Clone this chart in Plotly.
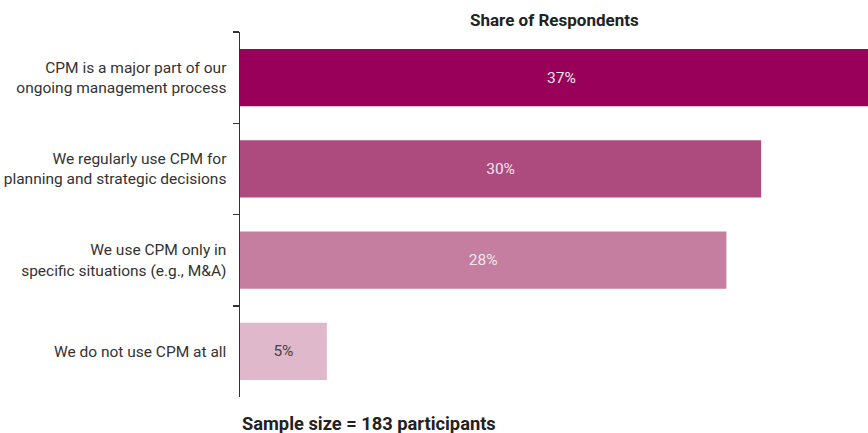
import plotly.graph_objects as go

categories = [
    "CPM is a major part of our<br>ongoing management process",
    "We regularly use CPM for<br>planning and strategic decisions",
    "We use CPM only in<br>specific situations (e.g., M&A)",
    "We do not use CPM at all",
]
values = [37, 30, 28, 5]
labels = ["37%", "30%", "28%", "5%"]
bar_colors = ["#98005A", "#AD4B7E", "#C57EA0", "#DFB8CB"]
text_colors = ["#F2E6EC", "#F2E6EC", "#F2E6EC", "#444444"]

fig = go.Figure(go.Bar(
    y=categories, x=values, orientation="h",
    marker=dict(color=bar_colors, line=dict(width=0)),
    width=0.63,
    text=labels, textposition="inside", insidetextanchor="middle",
    textangle=0,
    textfont=dict(color=text_colors, size=15.5, family="Roboto"),
    hoverinfo="skip",
))

fig.update_layout(
    width=868, height=433,
    margin=dict(l=240, r=0, t=32, b=36),
    paper_bgcolor="white", plot_bgcolor="white",
    showlegend=False,
    font=dict(family="Roboto", size=15, color="#333333"),
    xaxis=dict(range=[0, 36.15], visible=False, fixedrange=True),
    yaxis=dict(
        categoryorder="array", categoryarray=categories, autorange="reversed",
        showline=True, linecolor="#333333", linewidth=1.5,
        ticks="outside", tickson="boundaries", ticklen=6, tickcolor="#333333",
        tickwidth=1.5, showgrid=False, zeroline=False, fixedrange=True,
        tickfont=dict(family="Roboto", size=15.5, color="#333333"),
        ticklabelstandoff=9, automargin=False,
    ),
    annotations=[
        dict(text="<b>Share of Respondents</b>", xref="paper", yref="paper",
             x=0.5, y=1 + 12/365, xanchor="center", yanchor="middle",
             showarrow=False, font=dict(family="Roboto", size=17, color="#222222")),
        dict(text="<b>Sample size = 183 participants</b>", xref="paper", yref="paper",
             x=0, y=-26/365, xanchor="left", yanchor="middle",
             showarrow=False, font=dict(family="Roboto", size=18.3, color="#222222")),
    ],
)

fig.write_html("out.html", config={"displayModeBar": False, "staticPlot": True},
               post_script="document.body.style.margin='0';document.body.style.overflow='hidden';")
